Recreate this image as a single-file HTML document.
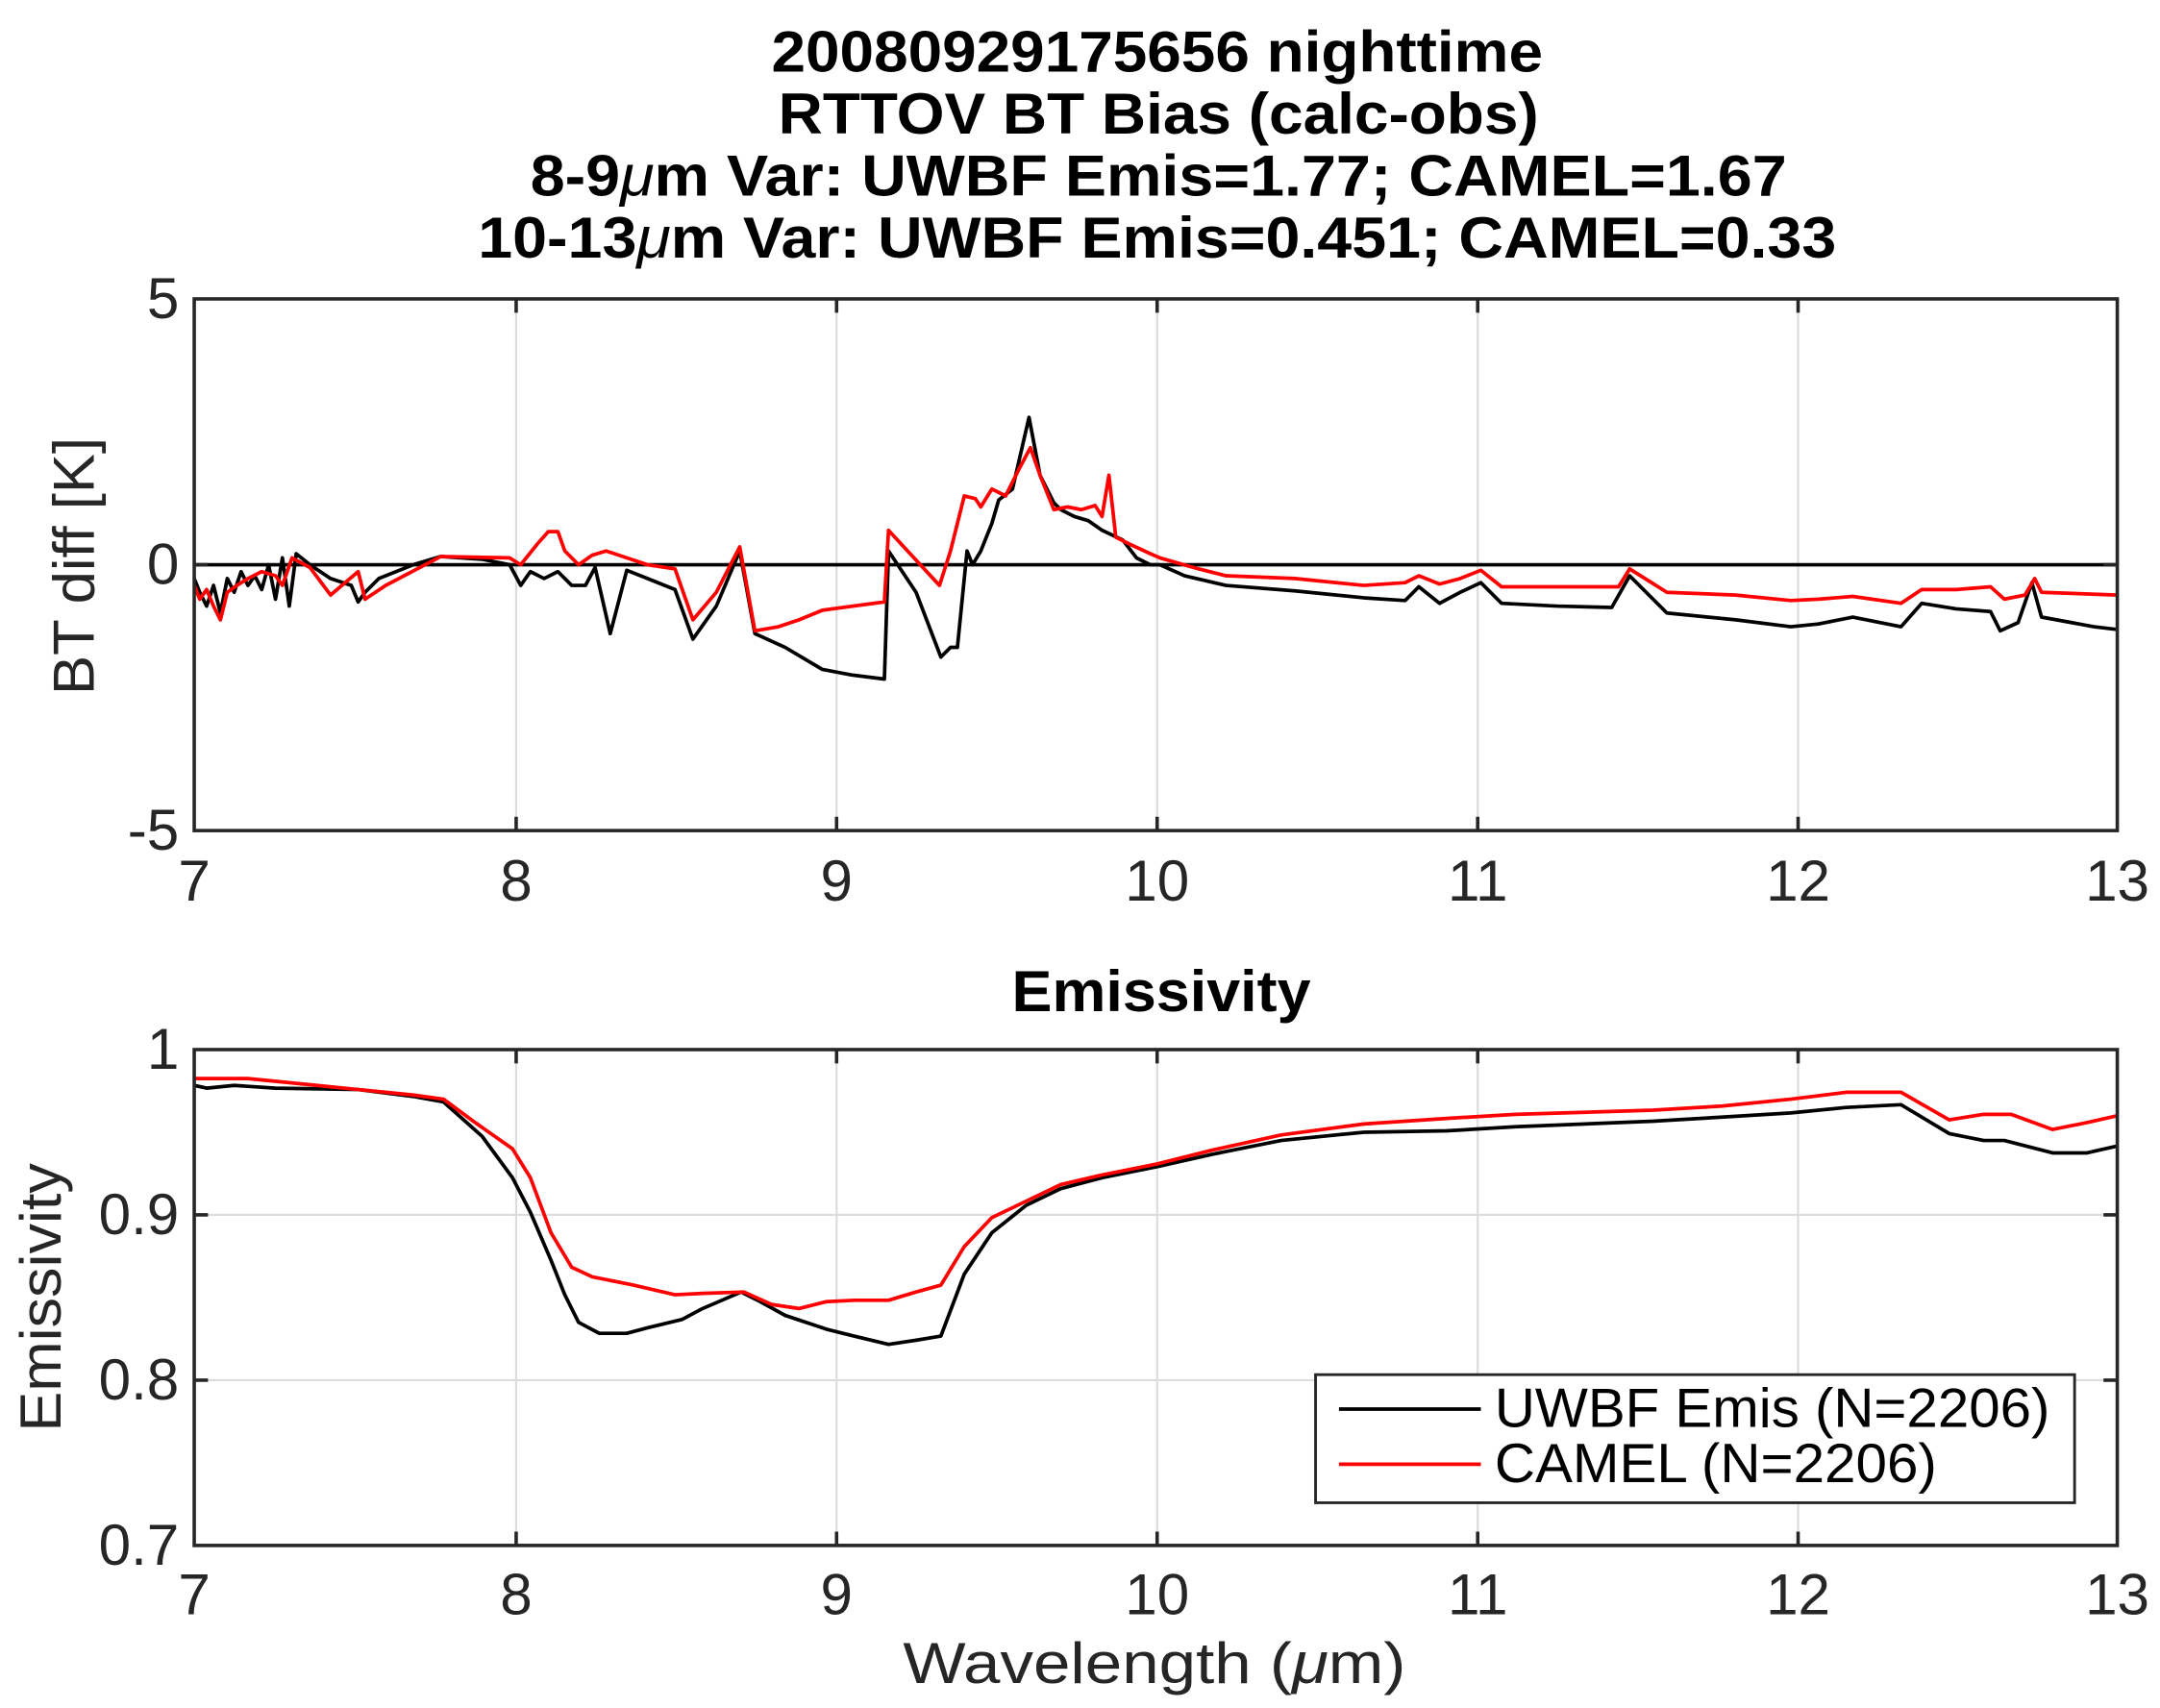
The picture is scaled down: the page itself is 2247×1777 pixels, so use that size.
<!DOCTYPE html>
<html><head><meta charset="utf-8"><style>html,body{margin:0;padding:0;background:#fff}svg{display:block}</style></head>
<body>
<svg width="2247" height="1777" viewBox="0 0 1568 1240" xmlns="http://www.w3.org/2000/svg" font-family="Liberation Sans, Arial, sans-serif">
<rect width="1568" height="1240" fill="#fff"/>
<g font-weight="bold" font-size="42" text-anchor="middle" fill="#000" lengthAdjust="spacingAndGlyphs">
<text x="840" y="52" textLength="560" lengthAdjust="spacingAndGlyphs">20080929175656 nighttime</text>
<text x="841" y="97" textLength="552" lengthAdjust="spacingAndGlyphs">RTTOV BT Bias (calc-obs)</text>
<text x="841" y="142" textLength="912" lengthAdjust="spacingAndGlyphs">8-9<tspan font-style="italic" font-weight="normal">μ</tspan>m Var: UWBF Emis=1.77; CAMEL=1.67</text>
<text x="840" y="187" textLength="986" lengthAdjust="spacingAndGlyphs">10-13<tspan font-style="italic" font-weight="normal">μ</tspan>m Var: UWBF Emis=0.451; CAMEL=0.33</text>
<text x="843" y="734" textLength="217" lengthAdjust="spacingAndGlyphs">Emissivity</text>
</g>
<g stroke="#dcdcdc" stroke-width="1.5">
<line x1="374.7" y1="217" x2="374.7" y2="603"/><line x1="607.3" y1="217" x2="607.3" y2="603"/><line x1="840" y1="217" x2="840" y2="603"/><line x1="1072.7" y1="217" x2="1072.7" y2="603"/><line x1="1305.3" y1="217" x2="1305.3" y2="603"/>
<line x1="374.7" y1="762" x2="374.7" y2="1122"/><line x1="607.3" y1="762" x2="607.3" y2="1122"/><line x1="840" y1="762" x2="840" y2="1122"/><line x1="1072.7" y1="762" x2="1072.7" y2="1122"/><line x1="1305.3" y1="762" x2="1305.3" y2="1122"/>
<line x1="141" y1="882" x2="1537" y2="882"/><line x1="141" y1="1002" x2="1537" y2="1002"/>
</g>
<line x1="141" y1="410" x2="1537" y2="410" stroke="#000" stroke-width="2.5"/>
<g fill="none" stroke-width="2.6" stroke-linejoin="round">
<polyline stroke="#000" points="141,420 145,430 150,440 155,425 160,445 165,420 170,430 175,415 180,425 185,418 190,428 195,410 200,435 205,405 210,440 215,402 225,410 240,420 255,425 260,437 265,430 275,420 300,410 320,404 350,406 370,410 378,425 385,415 395,420 405,415 415,425 425,425 432,412 443,460 455,414 470,420 490,428 503,464 520,440 537,400 548,460 570,470 597,486 618,490 642,493 645,400 665,430 683,477 690,470 695,470 702,400 706,410 712,400 720,380 725,363 735,355 747,303 755,345 765,365 770,370 780,375 790,378 800,385 815,392 825,405 835,410 842,410 860,418 890,425 940,429 990,434 1020,436 1030,426 1045,438 1060,430 1075,423 1090,438 1130,440 1170,441 1183,418 1210,445 1260,450 1300,455 1320,453 1345,448 1380,455 1395,438 1420,442 1445,444 1452,458 1465,452 1475,423 1482,448 1520,455 1537,457"/>
<polyline stroke="#f00" points="141,425 145,435 150,428 155,440 160,450 165,430 172,425 180,420 190,415 200,418 205,425 212,405 225,412 240,432 260,415 265,435 280,425 320,404 370,405 378,410 390,395 398,386 405,386 410,400 420,410 430,403 440,400 455,405 470,410 490,413 503,450 520,430 537,397 548,458 565,455 580,450 597,443 642,437 645,385 682,425 690,400 700,360 708,362 712,368 720,355 730,360 740,340 748,325 755,345 765,370 775,368 785,370 795,367 800,375 805,345 810,390 820,395 835,402 842,405 870,413 890,418 940,420 990,425 1020,423 1030,418 1045,424 1060,420 1075,414 1090,426 1175,426 1183,413 1210,430 1260,432 1300,436 1320,435 1345,433 1380,438 1395,428 1420,428 1445,426 1455,435 1470,432 1477,420 1482,430 1537,432"/>
<polyline stroke="#000" points="141,788 150,790 170,788 200,790 260,791 300,796 322,800 350,825 372,855 385,880 400,915 410,940 420,960 435,968 455,968 470,964 495,958 510,950 538,938 550,944 570,955 600,965 620,970 645,976 665,973 683,970 700,925 720,895 745,875 770,863 800,855 840,847 880,838 930,828 990,822 1050,821 1100,818 1200,814 1250,811 1300,808 1340,804 1380,802 1415,823 1440,828 1455,828 1490,837 1515,837 1537,832"/>
<polyline stroke="#f00" points="141,783 180,783 230,788 260,791 300,795 322,798 345,815 372,834 385,855 400,895 415,920 430,927 460,933 490,940 510,939 540,938 560,947 580,950 600,945 620,944 645,944 665,938 683,933 700,905 720,884 745,872 770,860 800,853 840,845 880,835 930,824 990,816 1050,812 1100,809 1200,806 1250,803 1300,798 1340,793 1380,793 1415,813 1440,809 1460,809 1490,820 1515,815 1537,810"/>
</g>
<g fill="none" stroke="#262626" stroke-width="2.5">
<rect x="141" y="217" width="1396" height="386"/>
<rect x="141" y="762" width="1396" height="360"/>
<path d="M374.7,217v10M607.3,217v10M840,217v10M1072.7,217v10M1305.3,217v10M374.7,603v-10M607.3,603v-10M840,603v-10M1072.7,603v-10M1305.3,603v-10M141,410h10M1537,410h-10"/>
<path d="M374.7,762v10M607.3,762v10M840,762v10M1072.7,762v10M1305.3,762v10M374.7,1122v-10M607.3,1122v-10M840,1122v-10M1072.7,1122v-10M1305.3,1122v-10M141,882h10M141,1002h10M1537,882h-10M1537,1002h-10"/>
</g>
<g font-size="42" fill="#262626">
<g text-anchor="end"><text x="130" y="231">5</text><text x="130" y="424">0</text><text x="130" y="617">-5</text>
<text x="130" y="776">1</text><text x="130" y="896">0.9</text><text x="130" y="1016">0.8</text><text x="130" y="1136">0.7</text></g>
<g text-anchor="middle"><text x="141" y="654">7</text><text x="374.7" y="654">8</text><text x="607.3" y="654">9</text><text x="840" y="654">10</text><text x="1072.7" y="654">11</text><text x="1305.3" y="654">12</text><text x="1537" y="654">13</text>
<text x="141" y="1172">7</text><text x="374.7" y="1172">8</text><text x="607.3" y="1172">9</text><text x="840" y="1172">10</text><text x="1072.7" y="1172">11</text><text x="1305.3" y="1172">12</text><text x="1537" y="1172">13</text>
<text x="838" y="1222" textLength="365" lengthAdjust="spacingAndGlyphs">Wavelength (<tspan font-style="italic">μ</tspan>m)</text>
<text transform="translate(68,411) rotate(-90)" textLength="187" lengthAdjust="spacingAndGlyphs">BT diff [K]</text>
<text transform="translate(44,942) rotate(-90)" textLength="195" lengthAdjust="spacingAndGlyphs">Emissivity</text></g>
</g>
<rect x="955" y="998" width="551" height="93" fill="#fff" stroke="#262626" stroke-width="2"/>
<line x1="972" y1="1023" x2="1075" y2="1023" stroke="#000" stroke-width="2.6"/>
<line x1="972" y1="1063" x2="1075" y2="1063" stroke="#f00" stroke-width="2.6"/>
<g font-size="40" fill="#000"><text x="1085" y="1036" textLength="403" lengthAdjust="spacingAndGlyphs">UWBF Emis (N=2206)</text><text x="1085" y="1076" textLength="321" lengthAdjust="spacingAndGlyphs">CAMEL (N=2206)</text></g>
</svg>
</body></html>
